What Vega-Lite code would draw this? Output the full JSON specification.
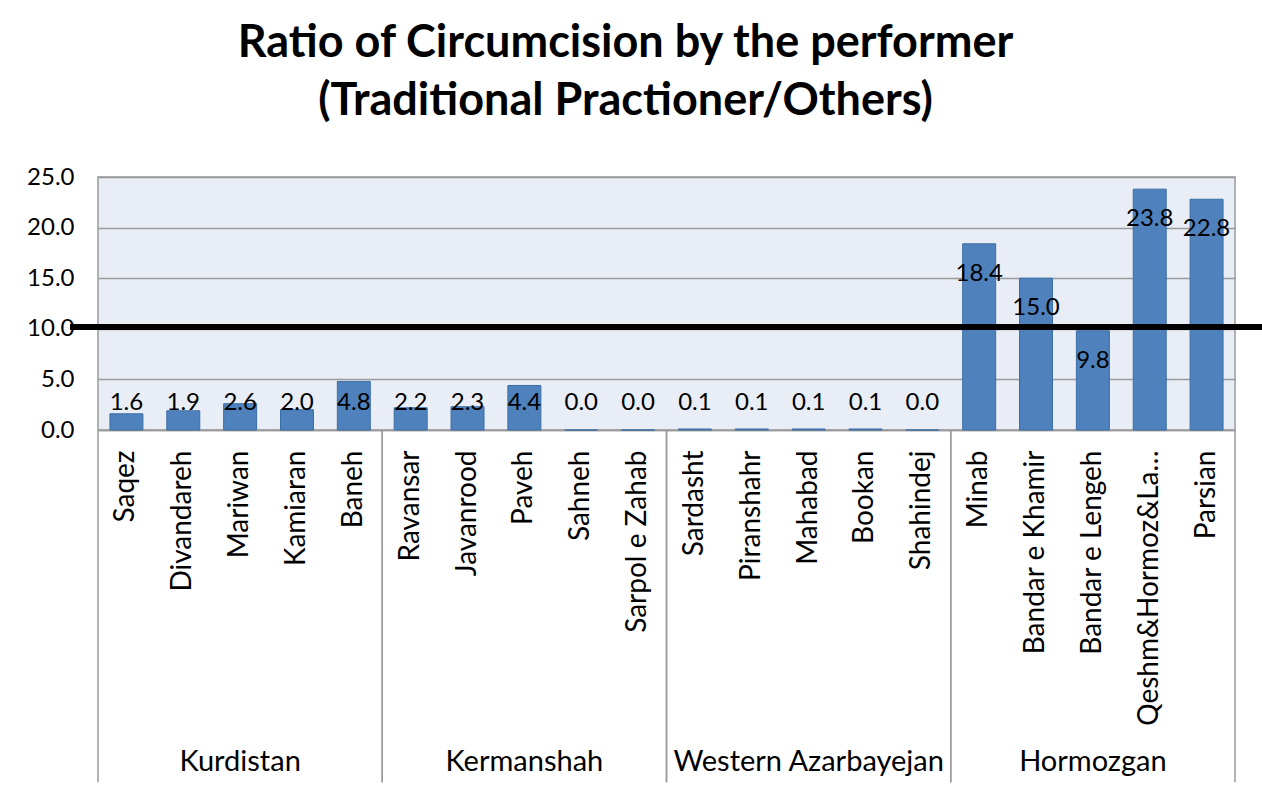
{
  "$schema": "https://vega.github.io/schema/vega-lite/v6.json",
  "width": 1137,
  "height": 253,
  "autosize": {"type": "none"},
  "padding": {"left": 98, "top": 177, "right": 27, "bottom": 363},
  "background": "white",
  "title": {
    "text": ["Ratio of Circumcision by the performer", "(Traditional Practioner/Others)"],
    "font": "Lato",
    "fontSize": 45,
    "fontWeight": "bold",
    "color": "#000000",
    "lineHeight": 58,
    "anchor": "middle",
    "dx": -41,
    "offset": 41
  },
  "data": {
    "values": [
      {"region": "Kurdistan", "city": "Saqez", "value": 1.6},
      {"region": "Kurdistan", "city": "Divandareh", "value": 1.9},
      {"region": "Kurdistan", "city": "Mariwan", "value": 2.6},
      {"region": "Kurdistan", "city": "Kamiaran", "value": 2.0},
      {"region": "Kurdistan", "city": "Baneh", "value": 4.8},
      {"region": "Kermanshah", "city": "Ravansar", "value": 2.2},
      {"region": "Kermanshah", "city": "Javanrood", "value": 2.3},
      {"region": "Kermanshah", "city": "Paveh", "value": 4.4},
      {"region": "Kermanshah", "city": "Sahneh", "value": 0.0},
      {"region": "Kermanshah", "city": "Sarpol e Zahab", "value": 0.0},
      {"region": "Western Azarbayejan", "city": "Sardasht", "value": 0.1},
      {"region": "Western Azarbayejan", "city": "Piranshahr", "value": 0.1},
      {"region": "Western Azarbayejan", "city": "Mahabad", "value": 0.1},
      {"region": "Western Azarbayejan", "city": "Bookan", "value": 0.1},
      {"region": "Western Azarbayejan", "city": "Shahindej", "value": 0.0},
      {"region": "Hormozgan", "city": "Minab", "value": 18.4},
      {"region": "Hormozgan", "city": "Bandar e Khamir", "value": 15.0},
      {"region": "Hormozgan", "city": "Bandar e Lengeh", "value": 9.8},
      {"region": "Hormozgan", "city": "Qeshm&Hormoz&La…", "value": 23.8},
      {"region": "Hormozgan", "city": "Parsian", "value": 22.8}
    ]
  },
  "layer": [
    {
      "encoding": {
        "x": {
          "field": "city",
          "type": "nominal",
          "sort": null,
          "scale": {"paddingInner": 0, "paddingOuter": 0},
          "axis": {
            "title": null,
            "labelAngle": -90,
            "labelFont": "Lato",
            "labelFontSize": 28,
            "labelColor": "#000000",
            "labelPadding": 20,
            "labelLimit": 500,
            "ticks": false,
            "domainColor": "#9a9a9a",
            "domainWidth": 1.5
          }
        },
        "y": {
          "type": "quantitative",
          "scale": {"domain": [0, 25], "nice": false},
          "axis": {
            "title": null,
            "values": [0, 5, 10, 15, 20, 25],
            "format": ".1f",
            "labelFont": "Lato",
            "labelFontSize": 24,
            "labelColor": "#000000",
            "labelPadding": 24,
            "ticks": false,
            "domain": false,
            "gridColor": "#9a9a9a",
            "gridWidth": 1.5
          }
        }
      },
      "layer": [
        {
          "mark": {"type": "bar", "width": {"band": 0.58}, "color": "#4f81bd", "stroke": "#3b6ea5", "strokeWidth": 1},
          "encoding": {"y": {"field": "value", "type": "quantitative"}}
        },
        {
          "transform": [{"filter": "datum.value >= 5"}],
          "mark": {"type": "text", "font": "Lato", "fontSize": 24, "color": "#000000", "baseline": "middle", "dy": 30},
          "encoding": {
            "y": {"field": "value", "type": "quantitative"},
            "text": {"field": "value", "type": "quantitative", "format": ".1f"}
          }
        },
        {
          "transform": [{"filter": "datum.value < 5"}],
          "mark": {"type": "text", "font": "Lato", "fontSize": 24, "color": "#000000", "baseline": "middle"},
          "encoding": {
            "y": {"datum": 2.67},
            "text": {"field": "value", "type": "quantitative", "format": ".1f"}
          }
        },
        {
          "transform": [
            {"window": [{"op": "row_number", "as": "rn"}], "groupby": ["region"]},
            {"filter": "datum.rn == 1"}
          ],
          "mark": {"type": "rule", "color": "#9a9a9a", "strokeWidth": 1.5},
          "encoding": {
            "x": {"field": "city", "type": "nominal", "sort": null, "bandPosition": 0},
            "y": {"datum": 0},
            "y2": {"datum": -34.8}
          }
        },
        {
          "transform": [
            {"window": [{"op": "row_number", "as": "rn"}], "groupby": ["region"]},
            {"filter": "datum.rn == 5"}
          ],
          "mark": {"type": "rule", "color": "#9a9a9a", "strokeWidth": 1.5},
          "encoding": {
            "x": {"field": "city", "type": "nominal", "sort": null, "bandPosition": 1},
            "y": {"datum": 0},
            "y2": {"datum": -34.8}
          }
        },
        {
          "transform": [
            {"window": [{"op": "row_number", "as": "rn"}], "groupby": ["region"]},
            {"filter": "datum.rn == 3"}
          ],
          "mark": {"type": "text", "font": "Lato", "fontSize": 29, "color": "#000000", "baseline": "middle"},
          "encoding": {
            "y": {"datum": -32.8},
            "text": {"field": "region", "type": "nominal"}
          }
        }
      ]
    },
    {
      "mark": {"type": "rule", "color": "#000000", "strokeWidth": 5},
      "encoding": {
        "x": {"datum": -0.0246, "type": "quantitative", "scale": {"domain": [0, 1], "nice": false, "zero": false}, "axis": null},
        "x2": {"datum": 1.0237},
        "y": {"datum": 10.2}
      }
    }
  ],
  "resolve": {"scale": {"x": "independent"}},
  "config": {
    "view": {"fill": "#e9edf5", "stroke": "#9a9a9a", "strokeWidth": 1.5}
  }
}
